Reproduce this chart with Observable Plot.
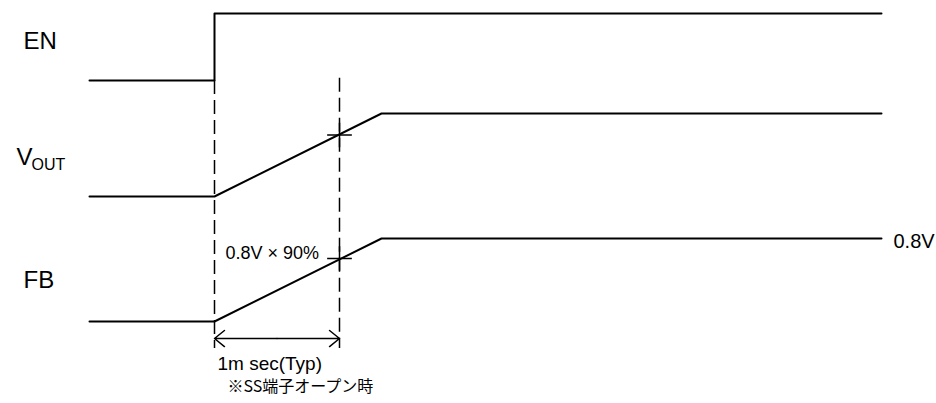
<!DOCTYPE html>
<html><head><meta charset="utf-8">
<script src="https://cdn.jsdelivr.net/npm/d3@7"></script>
<script src="https://cdn.jsdelivr.net/npm/@observablehq/plot@0.6"></script>
<style>body{margin:0;background:#fff} svg{display:block}</style>
</head><body><div id="chart"></div>
<script>
// time axis in ms (0 = EN rise, 1 = 1 ms Typ), level axis in row units (FB 0 → 0.8V = 1)
const enTime = [-1, 0, 0, 5.336];
const enLevel = [2.904, 2.904, 3.711, 3.711];
const voutTime = [-1, 0, 1.336, 5.336];
const voutLevel = [1.506, 1.506, 2.506, 2.506];
const fbTime = [-1, 0, 1.336, 5.336];
const fbLevel = [0, 0, 1, 1];
const markerTime = [1, 1];
const markerLevel = [2.247, 0.759];
const guideTime = [0, 1];
const guideTop = [2.904, 2.93];
const guideBottom = [-0.325, -0.325];
const spanStart = 0, spanEnd = 1, spanLevel = -0.205;

const labelText = ["EN", "V", "FB", "0.8V", "0.8V × 90%", "1m sec(Typ)", "※SS端子オープン時"];
const labelTime = [-1.528, -1.584, -1.528, 5.432, 0.088, 0.024, 0.104];
const labelLevel = [3.289, 1.880, 0.398, 0.880, 0.747, -0.590, -0.855];
const labelSize = [24, 24, 24, 20, 18, 19, 16];
const subText = ["OUT"];
const subTime = [-1.464];
const subLevel = [1.830];

const pts = (t, v) => t.map((x, i) => ({x, y: v[i]}));
const labels = labelText.map((s, i) => ({s, x: labelTime[i], y: labelLevel[i], size: labelSize[i]}));
const guides = guideTime.map((x, i) => ({x, y1: guideTop[i], y2: guideBottom[i]}));
const markers = pts(markerTime, markerLevel);
const arrows = [
  {x1: (spanStart + spanEnd) / 2, x2: spanStart, y: spanLevel},
  {x1: (spanStart + spanEnd) / 2, x2: spanEnd, y: spanLevel}
];
const font = "'Liberation Sans', Arial, 'Noto Sans CJK JP', sans-serif";

const chart = Plot.plot({
  width: 936, height: 403,
  margin: 0,
  x: {domain: [0, 1], range: [214, 339], axis: null},
  y: {domain: [0, 1], range: [321, 238], axis: null},
  style: {background: "#fff"},
  marks: [
    Plot.ruleX(guides, {x: "x", y1: "y1", y2: "y2", stroke: "black", strokeWidth: 1.5, strokeDasharray: "14,6"}),
    Plot.line(pts(enTime, enLevel), {x: "x", y: "y", stroke: "black", strokeWidth: 2, curve: "linear"}),
    Plot.line(pts(voutTime, voutLevel), {x: "x", y: "y", stroke: "black", strokeWidth: 2}),
    Plot.line(pts(fbTime, fbLevel), {x: "x", y: "y", stroke: "black", strokeWidth: 2}),
    Plot.dot(markers, {x: "x", y: "y", symbol: "plus", r: 8, stroke: "black", strokeWidth: 1.5}),
    Plot.arrow(arrows, {x1: "x1", x2: "x2", y1: "y", y2: "y", stroke: "black", strokeWidth: 1.5, headLength: 12.8, headAngle: 78}),
    ...labels.map(d => Plot.text([d], {x: "x", y: "y", text: "s", textAnchor: "start", lineAnchor: "bottom", fontSize: d.size, fill: "black", fontFamily: d.s.includes("端") ? "'Noto Sans CJK JP', sans-serif" : font})),
    Plot.text(pts(subTime, subLevel).map((d, i) => ({...d, s: subText[i]})), {x: "x", y: "y", text: "s", textAnchor: "start", lineAnchor: "bottom", fontSize: 16, fill: "black", fontFamily: font})
  ]
});
document.getElementById("chart").append(chart);
</script>
</body></html>
